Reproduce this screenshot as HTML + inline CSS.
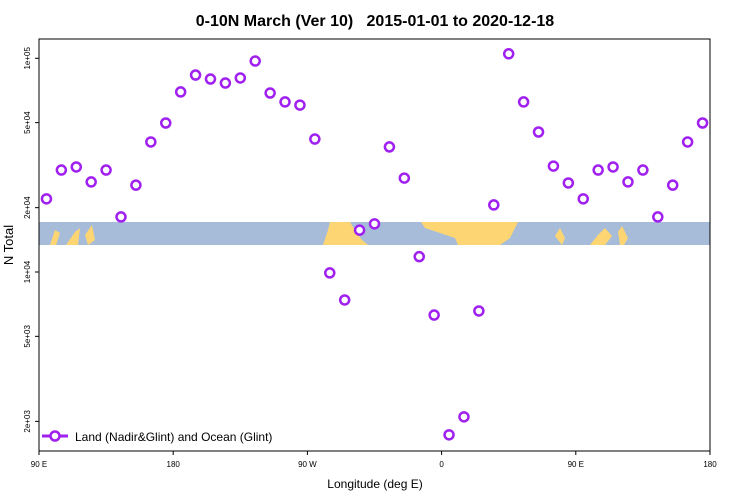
<!DOCTYPE html>
<html><head><meta charset="utf-8"><style>
body{margin:0;background:#fff;}
svg{display:block;font-family:"Liberation Sans",sans-serif;}
</style></head><body>
<svg id="chart" width="750" height="500">
<text x="375" y="26" text-anchor="middle" font-size="16" font-weight="bold" style="white-space:pre">0-10N March (Ver 10)   2015-01-01 to 2020-12-18</text>
<g id="map">
<rect x="39" y="222" width="671" height="23" fill="#a7bcd9"/>
<polygon points="50,245 55,230 60,233 56,245" fill="#fdd673"/>
<polygon points="66,245 75,232 80,228 78,245" fill="#fdd673"/>
<polygon points="85,235 92,225 95,240 88,245" fill="#fdd673"/>
<polygon points="323,245 328,230 330,222 350,222 356,232 362,240 368,245" fill="#fdd673"/>
<polygon points="421,222 518,222 510,238 500,245 458,245 455,238 440,233 425,228" fill="#fdd673"/>
<polygon points="555,236 560,228 565,238 562,245" fill="#fdd673"/>
<polygon points="590,245 598,235 605,228 612,236 605,245" fill="#fdd673"/>
<polygon points="618,232 622,226 628,238 624,245 620,245" fill="#fdd673"/>
</g>
<g id="axes"></g>
<g id="points"></g>
<rect x="39" y="39" width="671" height="412" fill="none" stroke="#000" stroke-width="1"/>
<g>
<line x1="42" y1="436" x2="68" y2="436" stroke="#a020f0" stroke-width="3"/>
<circle cx="55" cy="436" r="4.5" fill="#fff" stroke="#a020f0" stroke-width="2.5"/>
<text x="75" y="441" font-size="12">Land (Nadir&amp;Glint) and Ocean (Glint)</text>
</g>
<text x="375" y="488" text-anchor="middle" font-size="12">Longitude (deg E)</text>
<text transform="translate(13,245) rotate(-90)" text-anchor="middle" font-size="13">N Total</text>
</svg>
<script>
const longitudes = [95,105,115,125,135,145,155,165,175,185,195,205,215,225,235,245,255,265,275,285,295,305,315,325,335,345,355,365,375,385,395,405,415,425,435,445,455,465,475,485,495,505,515,525,535];
const nTotal = [22000,30000,31000,26400,30000,18100,25500,40600,49800,69600,83500,80000,76600,80900,97100,68800,62500,60400,41900,9900,7400,15700,16800,38500,27500,11800,6290,1730,2100,6570,20600,105000,62500,45200,31300,26100,22000,30000,31000,26400,30000,18100,25500,40600,49800];
const xTickValues = [90,180,270,360,450,540];
const xTickLabels = ["90 E","180","90 W","0","90 E","180"];
const yTickValues = [100000,50000,20000,10000,5000,2000];
const yTickLabels = ["1e+05","5e+04","2e+04","1e+04","5e+03","2e+03"];

const NS="http://www.w3.org/2000/svg";
function xs(lon){return 39+(lon-90)*(671/450);}
function ys(v){return 272-213.7*Math.log10(v/10000);}
const axes=document.getElementById('axes');
xTickValues.forEach((t,i)=>{
  const l=document.createElementNS(NS,'line');
  l.setAttribute('x1',xs(t));l.setAttribute('x2',xs(t));l.setAttribute('y1',451);l.setAttribute('y2',455);l.setAttribute('stroke','#000');
  
  
  axes.appendChild(l);
  const tx=document.createElementNS(NS,'text');
  tx.setAttribute('x',xs(t));tx.setAttribute('y',467);tx.setAttribute('text-anchor','middle');tx.setAttribute('font-size','8');
  tx.textContent=xTickLabels[i];
  
  
  axes.appendChild(tx);
});
yTickValues.forEach((t,i)=>{
  const y=ys(t);
  const l=document.createElementNS(NS,'line');
  l.setAttribute('x1',35);l.setAttribute('x2',39);l.setAttribute('y1',y);l.setAttribute('y2',y);l.setAttribute('stroke','#000');
  
  
  axes.appendChild(l);
  const tx=document.createElementNS(NS,'text');
  tx.setAttribute('transform','translate(30,'+y+') rotate(-90)');tx.setAttribute('text-anchor','middle');tx.setAttribute('font-size','8');
  tx.textContent=yTickLabels[i];
  
  
  axes.appendChild(tx);
});
const pts=document.getElementById('points');
longitudes.forEach((lon,i)=>{
  const c=document.createElementNS(NS,'circle');
  c.setAttribute('cx',xs(lon));c.setAttribute('cy',ys(nTotal[i]));c.setAttribute('r',4.5);
  c.setAttribute('fill','#fff');c.setAttribute('stroke','#a020f0');c.setAttribute('stroke-width','2.5');
  
  
  pts.appendChild(c);
});
</script>
</body></html>
